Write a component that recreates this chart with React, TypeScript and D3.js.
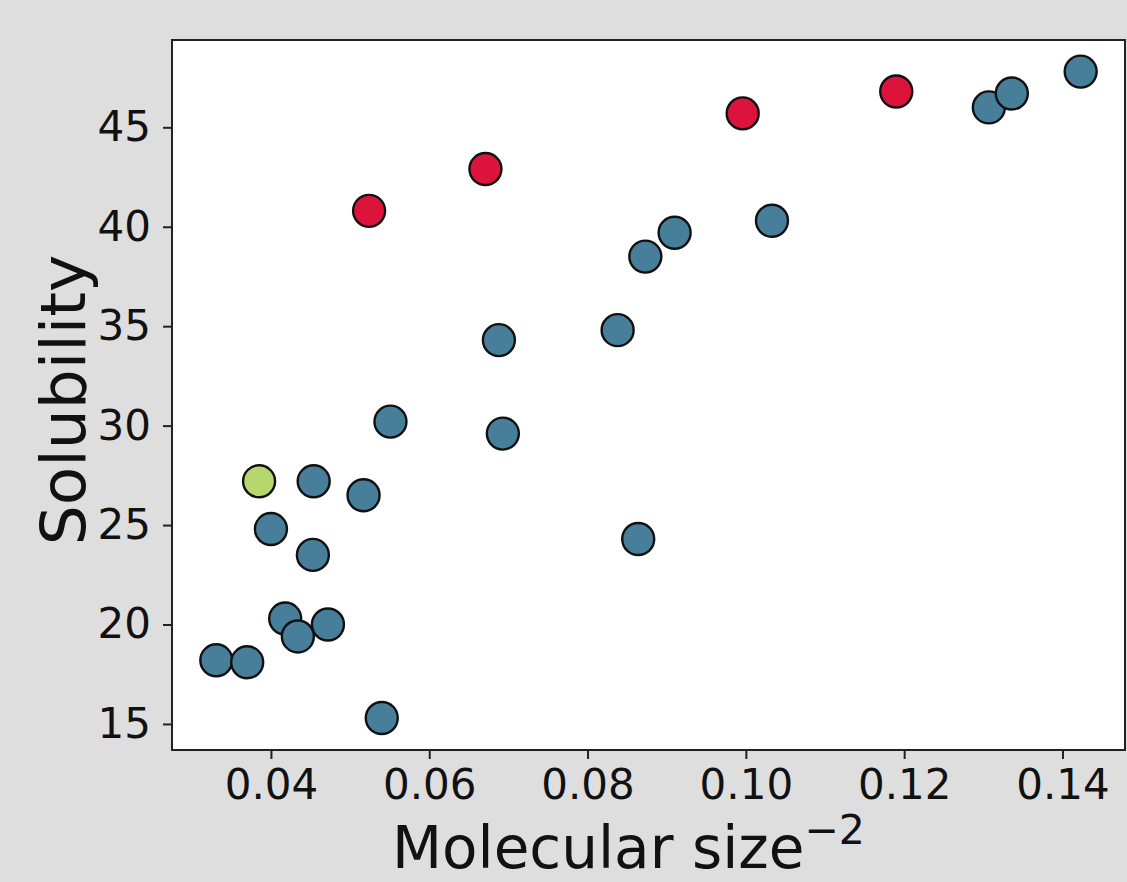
import React, { useEffect, useRef } from 'react';
import * as d3 from 'd3';

// chart size and frame of the plot area
const W = 1127;
const H = 882;
const margin = { top: 40, right: 2, bottom: 132, left: 172 };

const sizeInvSq = [
  0.0331, 0.0370, 0.0385, 0.0400, 0.0418, 0.0434, 0.0454, 0.0453, 0.0472, 0.0517,
  0.0524, 0.0551, 0.0540, 0.0671, 0.0688, 0.0693, 0.0838, 0.0864, 0.0873, 0.0910,
  0.0996, 0.1033, 0.1190, 0.1307, 0.1336, 0.1423,
];
const solubility = [
  18.2, 18.1, 27.2, 24.8, 20.3, 19.4, 27.2, 23.5, 20.0, 26.5,
  40.8, 30.2, 15.3, 42.9, 34.3, 29.6, 34.8, 24.3, 38.5, 39.7,
  45.7, 40.3, 46.8, 46.0, 46.7, 47.8,
];
const group = [
  'base', 'base', 'highlight', 'base', 'base', 'base', 'base', 'base', 'base', 'base',
  'outlier', 'base', 'base', 'outlier', 'base', 'base', 'base', 'base', 'base', 'base',
  'outlier', 'base', 'outlier', 'base', 'base', 'base',
];
const xTicks = [0.04, 0.06, 0.08, 0.1, 0.12, 0.14];
const yTicks = [15, 20, 25, 30, 35, 40, 45];

const colors: Record<string, string> = {
  base: '#477f9b',
  outlier: '#dc143c',
  highlight: '#b5d76e',
};

function App() {
  const svgRef = useRef<SVGSVGElement>(null);

  useEffect(() => {
    const width = W - margin.left - margin.right;
    const height = H - margin.top - margin.bottom;
    const root = d3.select(svgRef.current);
    root.selectAll('*').remove();

    root.append('rect').attr('width', W).attr('height', H).attr('fill', '#dedede');

    const svg = root
      .append('g')
      .attr('transform', 'translate(' + margin.left + ',' + margin.top + ')');

    svg.append('rect').attr('width', width).attr('height', height).attr('fill', '#fff');

    const x = d3.scaleLinear().domain([0.0275, 0.1479]).range([0, width]);
    const y = d3.scaleLinear().domain([13.69, 49.39]).range([height, 0]);

    const font = 'DejaVu Sans, sans-serif';

    // x axis
    const xAxis = svg
      .append('g')
      .attr('transform', 'translate(0,' + height + ')')
      .call(
        d3
          .axisBottom(x)
          .tickValues(xTicks)
          .tickFormat(d3.format('.2f'))
          .tickSize(9)
          .tickPadding(10)
      );
    xAxis.select('.domain').remove();
    xAxis.selectAll('line').attr('stroke', '#222').attr('stroke-width', 2);
    xAxis
      .selectAll('text')
      .attr('font-family', font)
      .attr('font-size', 42)
      .attr('fill', '#111');

    // y axis
    const yAxis = svg
      .append('g')
      .call(d3.axisLeft(y).tickValues(yTicks).tickSize(9).tickPadding(12));
    yAxis.select('.domain').remove();
    yAxis.selectAll('line').attr('stroke', '#222').attr('stroke-width', 2);
    yAxis
      .selectAll('text')
      .attr('font-family', font)
      .attr('font-size', 42)
      .attr('fill', '#111');

    // points
    const pts = sizeInvSq.map((v, i) => ({ x: v, y: solubility[i], g: group[i] }));
    svg
      .append('g')
      .selectAll('circle')
      .data(pts)
      .enter()
      .append('circle')
      .attr('cx', d => x(d.x))
      .attr('cy', d => y(d.y))
      .attr('r', 16)
      .attr('fill', d => colors[d.g])
      .attr('stroke', '#111')
      .attr('stroke-width', 2.4);

    // frame
    svg
      .append('rect')
      .attr('width', width)
      .attr('height', height)
      .attr('fill', 'none')
      .attr('stroke', '#222')
      .attr('stroke-width', 2);

    // axis labels
    const xl = root
      .append('text')
      .attr('x', 392)
      .attr('y', 868)
      .attr('font-family', font)
      .attr('font-size', 58)
      .attr('fill', '#111');
    xl.append('tspan').text('Molecular size');
    xl.append('tspan').attr('font-size', 41).attr('dy', -24).text('\u22122');

    root
      .append('text')
      .attr('transform', 'translate(85,400) rotate(-90)')
      .attr('text-anchor', 'middle')
      .attr('font-family', font)
      .attr('font-size', 63)
      .attr('fill', '#111')
      .text('Solubility');
  }, []);

  return (
    <div style={{ position: 'absolute', left: 0, top: 0 }}>
      <svg ref={svgRef} width={W} height={H} style={{ display: 'block' }} />
    </div>
  );
}

export default App;
